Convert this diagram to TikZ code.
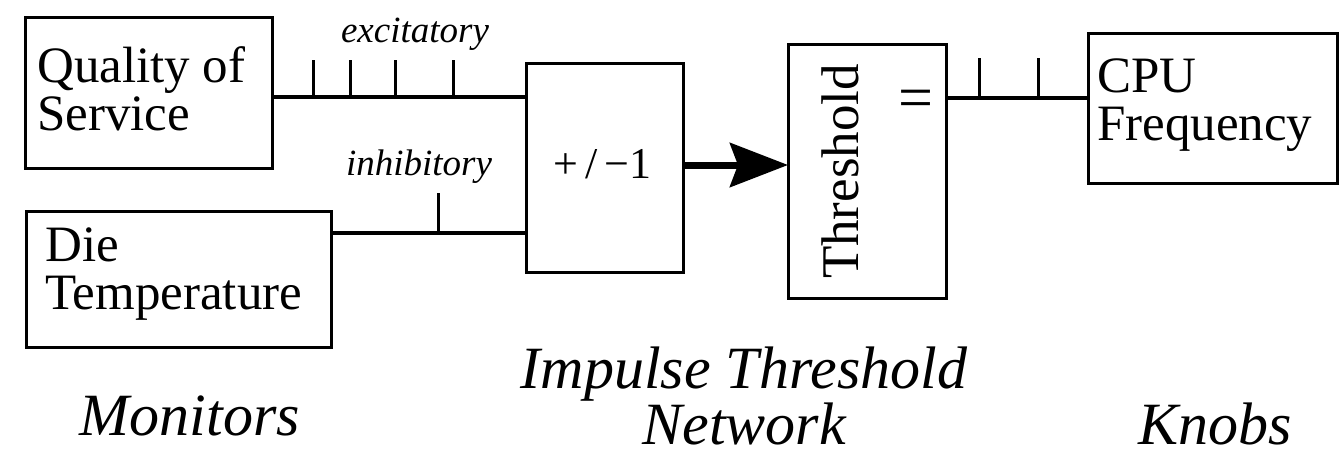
\documentclass[tikz,border=0pt]{standalone}
\usepackage{fontspec}
\setmainfont{Liberation Serif}
\usetikzlibrary{arrows.meta}

\tikzset{
  box/.style={draw, line width=3pt, inner sep=0pt, outer sep=0pt},
  boxtext/.style={inner sep=0pt, align=left, anchor=north west,
    font=\fontsize{51}{48}\selectfont},
  wire/.style={line width=4.5pt},
  spike/.style={line width=3pt},
  synlabel/.style={inner sep=0pt, anchor=base, font=\fontsize{37}{40}\selectfont\itshape},
  grouplabel/.style={inner sep=0pt, align=center, font=\fontsize{60}{51}\selectfont\itshape},
  pulse/.style={line width=7pt, -{Stealth[length=58pt,width=44pt,inset=8pt]}}
}

\begin{document}
\begin{tikzpicture}[x=1pt, y=1pt]
  \useasboundingbox (0,0) rectangle (1340,-458);

  % monitors
  \node[box, minimum width=247pt, minimum height=151pt] (qos) at (148.5,-92.5) {};
  \node[boxtext] (qostext) at (37,-46) {Quality of\\Service};
  \node[box, minimum width=305pt, minimum height=136pt] (die) at (178.5,-279) {};
  \node[boxtext] (dietext) at (45,-228) {Die\\Temperature};

  % impulse threshold network
  \node[box, minimum width=157pt, minimum height=209pt] (sum) at (604.5,-167.5) {};
  \node[inner sep=0pt, anchor=base, font=\fontsize{44}{44}\selectfont] (sumtext) at (602.5,-178) {+\,/\,−1};
  \node[box, minimum width=158pt, minimum height=254pt] (thr) at (867,-171) {};
  \node[inner sep=0pt, rotate=90, font=\fontsize{53}{53}\selectfont] (thrtext) at (840,-171.5) {Threshold};
  \node[inner sep=0pt, font=\fontsize{62}{62}\selectfont] (eq) at (916,-104) {=};

  % knobs
  \node[box, minimum width=249pt, minimum height=150pt] (cpu) at (1212.5,-108) {};
  \node[boxtext] (cputext) at (1097,-59) {CPU\\Frequency};

  % excitatory synapse
  \draw[wire] (qos.east |- 0,-97) -- (sum.west |- 0,-97);
  \foreach \x in {313,350,395,453} \draw[spike] (\x,-97) -- (\x,-60);
  \node[synlabel] (exc) at (415,-42) {excitatory};

  % inhibitory synapse
  \draw[wire] (die.east |- 0,-233) -- (sum.west |- 0,-233);
  \draw[spike] (438,-233) -- (438,-193);
  \node[synlabel] (inh) at (419,-175) {inhibitory};

  % summed impulse into the threshold unit
  \draw[pulse] (sum.east |- 0,-165) -- (thr.west |- 0,-165);

  % output to the knob
  \draw[wire] (thr.east |- 0,-98) -- (cpu.west |- 0,-98);
  \foreach \x in {979,1038} \draw[spike] (\x,-98) -- (\x,-58);

  % group captions
  \node[grouplabel, anchor=base] (mon) at (190,-435) {Monitors};
  \node[grouplabel, anchor=north] (itn) at (744,-347) {Impulse Threshold\\Network};
  \node[grouplabel, anchor=base] (knobs) at (1215,-444) {Knobs};
\end{tikzpicture}
\end{document}
